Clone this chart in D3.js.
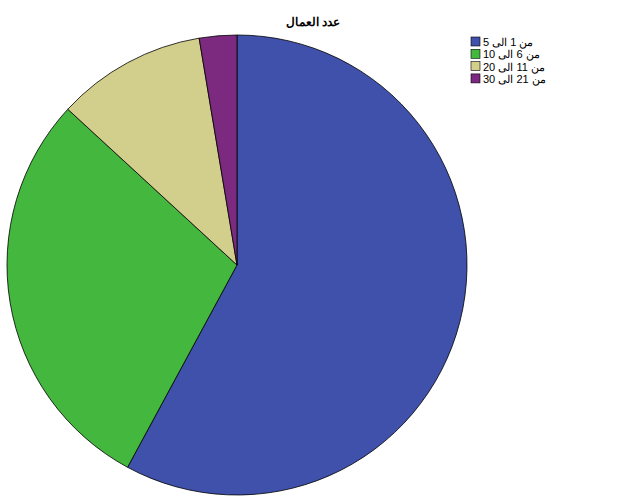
<!DOCTYPE html>
<html>
<head>
<meta charset="utf-8">
<script src="https://cdn.jsdelivr.net/npm/d3@7"></script>
<style>
  body { margin: 0; background: #fff; }
  svg { display: block; }
</style>
</head>
<body>
<script>
// data (counts per category)
var categories = ["من 1 الى 5", "من 6 الى 10", "من 11 الى 20", "من 21 الى 30"];
var counts = [22, 11, 4, 1];
var colors = ["#3f51aa", "#43b73e", "#d2ce8b", "#7c2a80"];
var title = "عدد العمال";

var width = 626,
    height = 501,
    cx = 237,
    cy = 265,
    radius = 230;

var svg = d3.select("body").append("svg")
    .attr("width", width)
    .attr("height", height);

// title
svg.append("text")
    .attr("x", 313)
    .attr("y", 26)
    .attr("text-anchor", "middle")
    .style("font-family", "Arial, 'Liberation Sans', sans-serif")
    .style("font-size", "12px")
    .style("font-weight", "bold")
    .text(title);

var color = d3.scaleOrdinal().domain(categories).range(colors);

var pie = d3.pie()
    .sort(null)
    .value(function (d) { return d.value; });

var arc = d3.arc()
    .innerRadius(0)
    .outerRadius(radius);

var data = categories.map(function (c, i) {
    return { name: c, value: counts[i] };
});

var g = svg.append("g")
    .attr("transform", "translate(" + cx + "," + cy + ")");

g.selectAll("path")
    .data(pie(data))
    .enter().append("path")
    .attr("d", arc)
    .attr("fill", function (d) { return color(d.data.name); })
    .attr("stroke", "#000")
    .attr("stroke-width", 0.8);

// legend
var legend = svg.append("g")
    .attr("transform", "translate(471,37)");

var rows = legend.selectAll("g")
    .data(categories)
    .enter().append("g")
    .attr("transform", function (d, i) { return "translate(0," + (i * 12.3) + ")"; });

rows.append("rect")
    .attr("width", 9)
    .attr("height", 9)
    .attr("fill", function (d) { return color(d); })
    .attr("stroke", "#000")
    .attr("stroke-width", 0.6);

rows.append("text")
    .attr("x", 12)
    .attr("y", 9)
    .style("font-family", "Arial, 'Liberation Sans', sans-serif")
    .style("font-size", "11px")
    .text(function (d) { return d; });
</script>
</body>
</html>
